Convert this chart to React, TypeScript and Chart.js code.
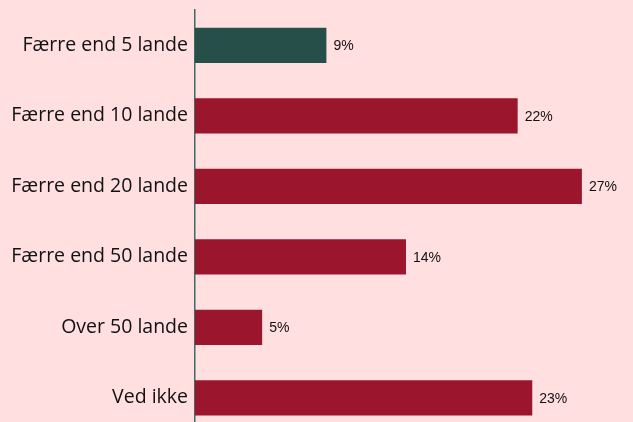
import React, { useEffect, useRef } from "react";
import { Chart, registerables } from "chart.js";

Chart.register(...registerables);

const categories = [
  "Færre end 5 lande",
  "Færre end 10 lande",
  "Færre end 20 lande",
  "Færre end 50 lande",
  "Over 50 lande",
  "Ved ikke",
];
const values = [9.0, 22.1, 26.5, 14.45, 4.6, 23.1];
const valueLabels = ["9%", "22%", "27%", "14%", "5%", "23%"];
const barColors = ["#264F4A", "#9B152D", "#9B152D", "#9B152D", "#9B152D", "#9B152D"];

const BG = "#FFDFE0";

const valueLabelPlugin = {
  id: "valueLabels",
  afterDatasetsDraw(chart: any) {
    const ctx = chart.ctx;
    const meta = chart.getDatasetMeta(0);
    ctx.save();
    ctx.font = "14px 'Liberation Sans', Arial, sans-serif";
    ctx.fillStyle = "#111111";
    ctx.textAlign = "left";
    ctx.textBaseline = "middle";
    meta.data.forEach((bar: any, i: number) => {
      ctx.fillText(valueLabels[i], bar.x + 7, bar.y + 1);
    });
    ctx.restore();
  },
};

export default function App() {
  const ref = useRef<HTMLCanvasElement | null>(null);
  useEffect(() => {
    document.body.style.margin = "0";
    document.body.style.background = BG;
    const chart = new Chart(ref.current!, {
      type: "bar",
      data: {
        labels: categories,
        datasets: [
          {
            data: values,
            backgroundColor: barColors,
            barPercentage: 0.5,
            categoryPercentage: 1,
          },
        ],
      },
      options: {
        indexAxis: "y",
        animation: false,
        responsive: false,
        maintainAspectRatio: false,
        layout: { padding: { top: 10, right: 0, bottom: 0, left: 0 } },
        plugins: { legend: { display: false }, tooltip: { enabled: false } },
        scales: {
          x: { display: false, min: 0, max: 30 },
          y: {
            grid: { display: false, drawTicks: false },
            border: { display: true, color: "#3F6A64", width: 1.5 },
            ticks: {
              color: "#111111",
              padding: 7,
              font: { family: "'Open Sans', 'Noto Sans', sans-serif", size: 19.5 },
            },
            afterFit(scale: any) {
              scale.width = 195;
              scale.paddingTop = 0;
              scale.paddingBottom = 0;
            },
          },
        },
      },
      plugins: [valueLabelPlugin],
    });
    return () => chart.destroy();
  }, []);
  return (
    <div style={{ position: "fixed", left: 0, top: 0, width: 633, height: 433, background: BG }}>
      <canvas ref={ref} width={633} height={433} style={{ display: "block" }} />
    </div>
  );
}
